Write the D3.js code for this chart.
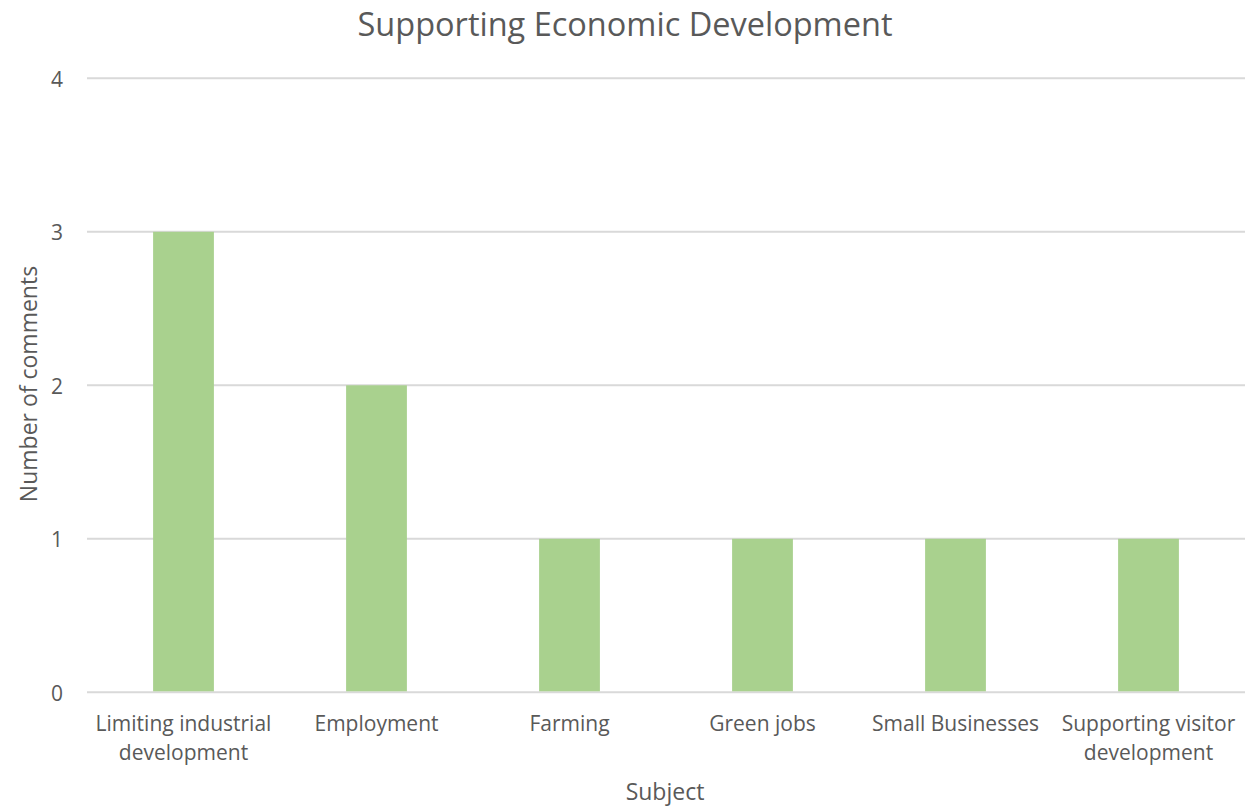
<!DOCTYPE html>
<html>
<head>
<meta charset="utf-8">
<script src="https://cdn.jsdelivr.net/npm/d3@7/dist/d3.min.js"></script>
<style>
  html, body { margin: 0; padding: 0; background: #ffffff; }
  svg text { font-family: "Open Sans", "Noto Sans", sans-serif; fill: #595959; }
</style>
</head>
<body>
<svg id="chart" width="1258" height="809"></svg>
<script>
const categories = [
  ["Limiting industrial", "development"],
  ["Employment"],
  ["Farming"],
  ["Green jobs"],
  ["Small Businesses"],
  ["Supporting visitor", "development"]
];
const values = [3, 2, 1, 1, 1, 1];
const yTicks = [0, 1, 2, 3, 4];
const chartTitle = "Supporting Economic Development";
const xTitle = "Subject";
const yTitle = "Number of comments";

const svg = d3.select("#chart");
const margin = { left: 87, right: 1245, top: 78.3, bottom: 692.3 };

const x = d3.scaleBand()
  .domain(d3.range(categories.length))
  .range([margin.left, margin.right])
  .paddingInner(0.685)
  .paddingOuter(0.3425);

const y = d3.scaleLinear().domain([0, 4]).range([margin.bottom, margin.top]);

// gridlines
svg.append("g").selectAll("line")
  .data(yTicks)
  .join("line")
  .attr("x1", margin.left)
  .attr("x2", margin.right)
  .attr("y1", d => y(d))
  .attr("y2", d => y(d))
  .attr("stroke", "#d9d9d9")
  .attr("stroke-width", 2);

// bars
svg.append("g").selectAll("rect")
  .data(values)
  .join("rect")
  .attr("x", (d, i) => x(i))
  .attr("width", x.bandwidth())
  .attr("y", d => y(d))
  .attr("height", d => y(0) - y(d) - 1)
  .attr("fill", "#a9d18e");

// y tick labels
svg.append("g").selectAll("text")
  .data(yTicks)
  .join("text")
  .attr("x", 63)
  .attr("y", d => y(d) + 1)
  .attr("dy", "0.35em")
  .attr("text-anchor", "end")
  .attr("font-size", 21)
  .text(d => d);

// x tick labels
const xl = svg.append("g").selectAll("text")
  .data(categories)
  .join("text")
  .attr("text-anchor", "middle")
  .attr("font-size", 21)
  .attr("transform", (d, i) => `translate(${x(i) + x.bandwidth() / 2},731)`);
xl.selectAll("tspan")
  .data(d => d)
  .join("tspan")
  .attr("x", 0)
  .attr("y", (d, j) => j * 29)
  .text(d => d);

// title
svg.append("text")
  .attr("x", 625)
  .attr("y", 36)
  .attr("text-anchor", "middle")
  .attr("font-size", 32.5)
  .text(chartTitle);

// x axis title
svg.append("text")
  .attr("x", 665)
  .attr("y", 800)
  .attr("text-anchor", "middle")
  .attr("font-size", 23)
  .text(xTitle);

// y axis title
svg.append("text")
  .attr("transform", "translate(37,384) rotate(-90)")
  .attr("text-anchor", "middle")
  .attr("font-size", 23)
  .text(yTitle);
</script>
</body>
</html>
